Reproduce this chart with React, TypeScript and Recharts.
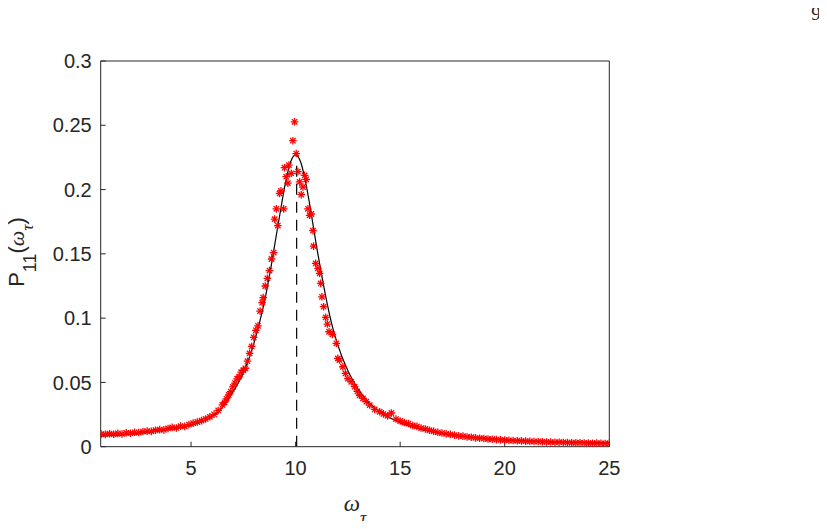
import React from 'react';
import { ComposedChart, Scatter, Line, XAxis, YAxis } from 'recharts';

// measured spectrum (red asterisks)
const sampleW = [
  0.7, 0.9, 1.1, 1.3, 1.5, 1.7, 1.9, 2.1, 2.3, 2.5, 2.7, 2.9, 3.1, 3.3, 3.5, 3.7, 3.9, 4.1, 4.3, 4.5,
  4.7, 4.9, 5.1, 5.3, 5.5, 5.7, 5.9, 6.1, 6.3, 6.5, 6.6, 6.7, 6.8, 6.9, 7.0, 7.1, 7.2, 7.3, 7.4, 7.5,
  7.6, 7.7, 7.8, 7.9, 8.0, 8.1, 8.2, 8.3, 8.4, 8.45, 8.55, 8.65, 8.75, 8.85, 8.95, 9.0, 9.08, 9.15, 9.23, 9.3,
  9.43, 9.47, 9.55, 9.63, 9.68, 9.79, 9.87, 9.95, 10.03, 10.11, 10.19, 10.27, 10.35, 10.43, 10.51, 10.59, 10.67, 10.75, 10.83, 10.86,
  10.96, 11.07, 11.15, 11.2, 11.26, 11.34, 11.44, 11.52, 11.6, 11.76, 11.95, 12.02, 12.1, 12.26, 12.38, 12.5, 12.66, 12.82, 12.95, 13.06,
  13.22, 13.38, 13.54, 13.78, 14.02, 14.2, 14.4, 14.58, 14.8, 15.0, 15.2, 15.4, 15.6, 15.8, 16.0, 16.2, 16.4, 16.6, 16.8, 17.0,
  17.2, 17.4, 17.6, 17.8, 18.0, 18.2, 18.4, 18.6, 18.8, 19.0, 19.2, 19.4, 19.6, 19.8, 20.0, 20.2, 20.4, 20.6, 20.8, 21.0,
  21.2, 21.4, 21.6, 21.8, 22.0, 22.2, 22.4, 22.6, 22.8, 23.0, 23.2, 23.4, 23.6, 23.8, 24.0, 24.2, 24.4, 24.6, 24.8, 25.0,
];
const sampleP = [
  0.0098, 0.0096, 0.0101, 0.0097, 0.0104, 0.0099, 0.0108, 0.0105, 0.0112, 0.011, 0.0118, 0.0121, 0.0119, 0.0128, 0.0133, 0.0131, 0.0142, 0.015, 0.0146, 0.016,
  0.0158, 0.0172, 0.0183, 0.0192, 0.0203, 0.0216, 0.0232, 0.0252, 0.0282, 0.0325, 0.0345, 0.0372, 0.0402, 0.0428, 0.0465, 0.0495, 0.0528, 0.0545, 0.058, 0.0595,
  0.061, 0.0665, 0.0726, 0.078, 0.085, 0.0905, 0.094, 0.1055, 0.112, 0.116, 0.125, 0.131, 0.137, 0.146, 0.151, 0.177, 0.185, 0.172, 0.197, 0.199,
  0.185, 0.217, 0.21, 0.205, 0.219, 0.2126, 0.238, 0.2527, 0.228, 0.214, 0.206, 0.196, 0.202, 0.211, 0.208, 0.185, 0.18, 0.181, 0.168, 0.156,
  0.1426, 0.1387, 0.1348, 0.127, 0.1166, 0.1089, 0.1006, 0.0954, 0.0894, 0.0874, 0.0804, 0.0687, 0.0674, 0.0622, 0.057, 0.053, 0.0505, 0.0467, 0.043, 0.04,
  0.0376, 0.035, 0.0324, 0.029, 0.0272, 0.0255, 0.024, 0.0262, 0.0215, 0.02, 0.0188, 0.018, 0.0165, 0.0158, 0.0145, 0.0138, 0.0128, 0.012, 0.0112, 0.0106,
  0.01, 0.0096, 0.009, 0.0084, 0.0082, 0.0076, 0.0074, 0.0069, 0.0066, 0.0064, 0.006, 0.0058, 0.0055, 0.0053, 0.0052, 0.0049, 0.0048, 0.0046, 0.0045, 0.0043,
  0.0042, 0.004, 0.0041, 0.0038, 0.0037, 0.0036, 0.0034, 0.0035, 0.0033, 0.0032, 0.0031, 0.003, 0.0031, 0.0029, 0.0028, 0.0027, 0.0028, 0.0026, 0.0025, 0.0026,
];

// fitted curve (black line)
const fitW = [
  0.68, 1, 1.5, 2, 2.5, 3, 3.5, 4, 4.5, 5, 5.5, 6, 6.5, 7, 7.5, 8, 8.25, 8.5, 8.75, 9, 9.25, 9.5, 9.75, 10,
  10.25, 10.5, 10.75, 11, 11.25, 11.5, 11.75, 12, 12.5, 13, 13.5, 14, 14.5, 15, 16, 17, 18, 19, 20, 21, 22, 23, 24, 25,
];
const fitP = [
  0.0083, 0.0085, 0.0089, 0.0095, 0.0102, 0.0111, 0.0122, 0.0134, 0.0148, 0.0165, 0.0192, 0.0232, 0.0305, 0.0425, 0.0575, 0.08, 0.095, 0.112, 0.133, 0.157, 0.181, 0.204, 0.221, 0.227,
  0.221, 0.204, 0.181, 0.156, 0.133, 0.112, 0.094, 0.08, 0.059, 0.0445, 0.0345, 0.0275, 0.0225, 0.0187, 0.0135, 0.0102, 0.008, 0.0065, 0.0054, 0.0046, 0.004, 0.0036, 0.0033, 0.0031,
];

// dashed marker at the resonance
const peakW = [10.05, 10.05];
const peakP = [0, 0.2185];

const xTicks = [5, 10, 15, 20, 25];
const yTicks = [0, 0.05, 0.1, 0.15, 0.2, 0.25, 0.3];

const samples = sampleW.map((x, i) => ({ x, y: sampleP[i] }));
const fit = fitW.map((x, i) => ({ x, y: fitP[i] }));
const peak = peakW.map((x, i) => ({ x, y: peakP[i] }));

const AXIS = '#262626';
const FONT = '"Liberation Sans", Arial, sans-serif';
const SERIF = '"Liberation Serif", serif';

const Asterisk = (props: any) => {
  const { cx, cy } = props;
  if (cx == null || cy == null) return null;
  const r = 3.8;
  const d = r * 0.707;
  return (
    <g stroke="#ff0000" strokeWidth={1.3}>
      <line x1={cx - r} y1={cy} x2={cx + r} y2={cy} />
      <line x1={cx} y1={cy - r} x2={cx} y2={cy + r} />
      <line x1={cx - d} y1={cy - d} x2={cx + d} y2={cy + d} />
      <line x1={cx - d} y1={cy + d} x2={cx + d} y2={cy - d} />
    </g>
  );
};

export default function App() {
  const tickStyle = { fill: AXIS, fontSize: 20, fontFamily: FONT };
  return (
    <div style={{ position: 'relative', width: 811, height: 513 }}>
      <ComposedChart width={811} height={513} margin={{ top: 52, right: 208.7, bottom: 44.3, left: 32.7 }}>
        <XAxis
          dataKey="x"
          type="number"
          domain={[0.68, 25]}
          ticks={xTicks}
          allowDataOverflow
          height={30}
          stroke={AXIS}
          tick={tickStyle}
          tickSize={-5}
          tickMargin={19}
        />
        <XAxis
          xAxisId="top"
          orientation="top"
          type="number"
          domain={[0.68, 25]}
          ticks={xTicks}
          allowDataOverflow
          height={1}
          stroke={AXIS}
          tick={false}
          tickSize={-5}
        />
        <YAxis
          dataKey="y"
          type="number"
          domain={[0, 0.3]}
          ticks={yTicks}
          allowDataOverflow
          width={60}
          stroke={AXIS}
          tick={tickStyle}
          tickSize={-5}
          tickMargin={14}
        />
        <YAxis
          yAxisId="right"
          orientation="right"
          type="number"
          domain={[0, 0.3]}
          ticks={yTicks}
          allowDataOverflow
          width={1}
          stroke={AXIS}
          tick={false}
          tickSize={-5}
        />
        <Scatter data={samples} dataKey="y" shape={<Asterisk />} isAnimationActive={false} />
        <Line data={fit} dataKey="y" type="monotone" stroke="#000" strokeWidth={1.2} dot={false} isAnimationActive={false} />
        <Line
          data={peak}
          dataKey="y"
          type="linear"
          stroke="#000"
          strokeWidth={1.2}
          strokeDasharray="11 7"
          dot={false}
          isAnimationActive={false}
        />
      </ComposedChart>
      <svg
        width={827}
        height={529}
        style={{ position: 'absolute', left: -8, top: -8, pointerEvents: 'none' }}
      >
        <text x={816} y={20} textAnchor="middle" fontFamily={SERIF} fontSize={19} fill="#222">
          9
        </text>
        <text x={355} y={511} textAnchor="middle" fill={AXIS}>
          <tspan fontFamily={SERIF} fontStyle="italic" fontSize={23}>ω</tspan>
          <tspan fontFamily={SERIF} fontStyle="italic" fontSize={18} dy={13}>τ</tspan>
        </text>
        <text x={24} y={252} textAnchor="middle" fill={AXIS} transform="rotate(-90, 24, 252)" fontFamily={FONT} fontSize={22}>
          <tspan>P</tspan>
          <tspan fontSize={18} dy={12}>11</tspan>
          <tspan dy={-12}>(</tspan>
          <tspan fontFamily={SERIF} fontStyle="italic">ω</tspan>
          <tspan fontFamily={SERIF} fontStyle="italic" fontSize={17} dy={9}>τ</tspan>
          <tspan dy={-9}>)</tspan>
        </text>
      </svg>
    </div>
  );
}
